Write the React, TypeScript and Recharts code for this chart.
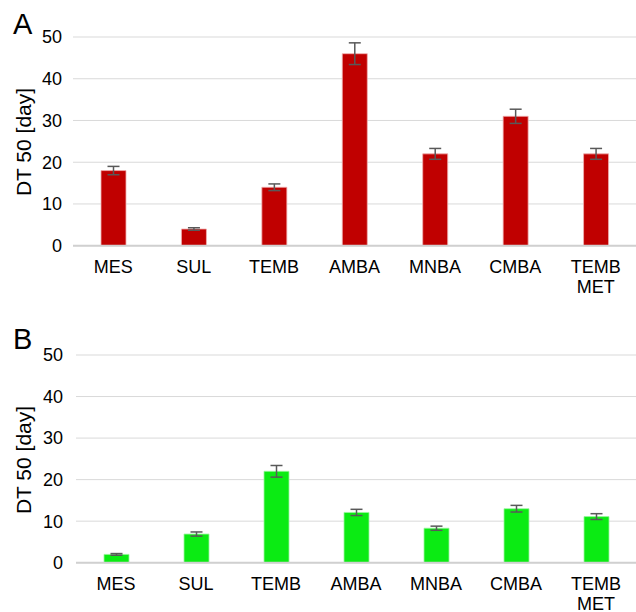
import { BarChart, Bar, XAxis, YAxis, CartesianGrid, ErrorBar } from "recharts";

const categories = ["MES", "SUL", "TEMB", "AMBA", "MNBA", "CMBA", "TEMB MET"];
const yTicks = [0, 10, 20, 30, 40, 50];

// panel A (red)
const dt50A = [18, 4, 14, 46, 22, 31, 22];
const errA = [1, 0.3, 0.8, 2.6, 1.3, 1.7, 1.3];

// panel B (green)
const dt50B = [2, 6.9, 22, 12.1, 8.3, 13, 11.1];
const errB = [0.2, 0.5, 1.4, 0.75, 0.5, 0.8, 0.7];

const FONT = "'Liberation Sans', Arial, sans-serif";

const CatTick = ({ x, y, payload }: any) => {
  const lines = String(payload.value).split(" ");
  return (
    <text x={x} y={y} textAnchor="middle" fill="#000" fontSize={18} fontFamily={FONT}>
      {lines.map((l, i) => (
        <tspan key={i} x={x} dy={i === 0 ? 27 : 20.6}>{l}</tspan>
      ))}
    </text>
  );
};

function Panel({ values, errors, color, edge, letter, top, marginTop, axisH, yWidth, tickGap, letterTop }: any) {
  const data = categories.map((c, i) => ({ name: c, v: values[i], err: errors[i] }));
  const plotMid = marginTop + (306 - marginTop - axisH) / 2;
  return (
    <div style={{ position: "absolute", left: 0, top, width: 636, height: 306 }}>
      <div style={{ position: "absolute", left: 13, top: letterTop, fontFamily: FONT, fontSize: 29, lineHeight: "29px", color: "#000" }}>
        {letter}
      </div>
      <div style={{ position: "absolute", left: 22.7, top: plotMid + 1, width: 0, height: 0 }}>
        <div style={{
          position: "absolute", transform: "translate(-50%, -50%) rotate(-90deg)", whiteSpace: "nowrap",
          fontFamily: FONT, fontSize: 21, color: "#000", lineHeight: "21px",
        }}>DT 50 [day]</div>
      </div>
      <BarChart width={636} height={306} data={data} margin={{ top: marginTop, right: 0, left: 0, bottom: 0 }} barSize={25}>
        <CartesianGrid vertical={false} stroke="#D9D9D9" strokeWidth={1} />
        <XAxis
          dataKey="name"
          height={axisH}
          tick={<CatTick />}
          tickLine={false}
          tickSize={0}
          tickMargin={0}
          axisLine={{ stroke: "#D0D0D0", strokeWidth: 2 }}
          interval={0}
        />
        <YAxis
          domain={[0, 50]}
          ticks={yTicks}
          width={yWidth}
          axisLine={false}
          tickLine={false}
          tickSize={0}
          tickMargin={tickGap}
          tick={{ fill: "#000", fontSize: 18, fontFamily: FONT }}
        />
        <Bar dataKey="v" fill={color} stroke={edge} strokeWidth={0.8} isAnimationActive={false}>
          <ErrorBar dataKey="err" width={6} stroke="#595959" strokeWidth={1.5} isAnimationActive={false} />
        </Bar>
      </BarChart>
    </div>
  );
}

export default function App() {
  return (
    <div style={{ position: "absolute", left: 0, top: 0, width: 636, height: 612, background: "#fff", overflow: "hidden" }}>
      <Panel values={dt50A} errors={errA} color="#C00000" edge="#F0B0B0" letter="A" top={0}
        marginTop={37} axisH={60.3} yWidth={73} tickGap={11} letterTop={10} />
      <Panel values={dt50B} errors={errB} color="#0BEB13" edge="#9CF59F" letter="B" top={306}
        marginTop={49} axisH={49.3} yWidth={76} tickGap={13} letterTop={19} />
    </div>
  );
}
